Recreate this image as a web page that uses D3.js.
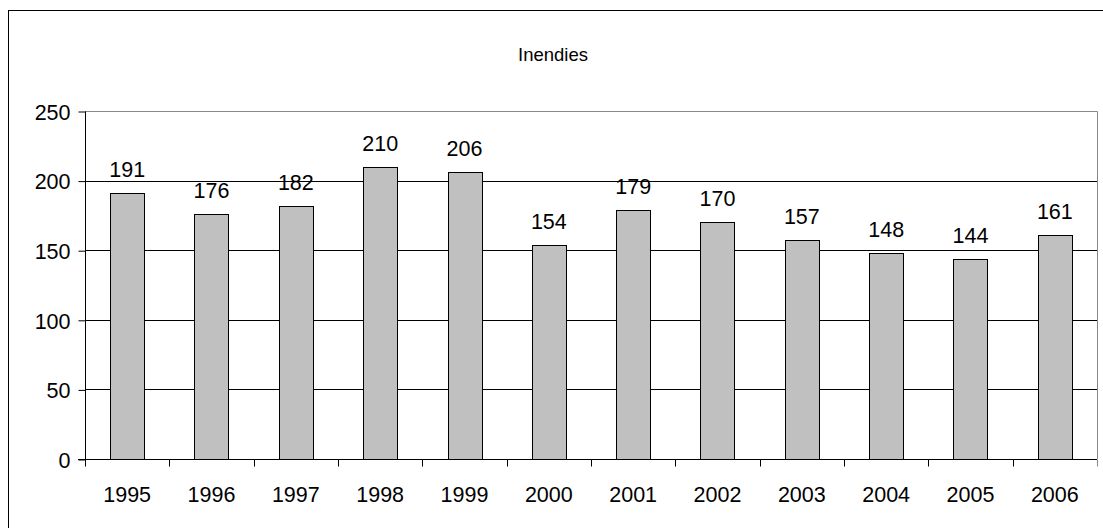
<!DOCTYPE html>
<html>
<head>
<meta charset="utf-8">
<script src="https://cdn.jsdelivr.net/npm/d3@7/dist/d3.min.js"></script>
<style>
  html, body { margin: 0; padding: 0; background: #fff; }
  svg { display: block; font-family: "Liberation Sans", Arial, sans-serif; }
</style>
</head>
<body>
<svg id="chart" width="1103" height="528"></svg>
<script>
// Annual number of fires
const years = ["1995", "1996", "1997", "1998", "1999", "2000", "2001", "2002", "2003", "2004", "2005", "2006"];
const fires = [191, 176, 182, 210, 206, 154, 179, 170, 157, 148, 144, 161];
const yTicks = [0, 50, 100, 150, 200, 250];
const title = "Inendies";

const svg = d3.select("#chart");
const plot = { left: 85, right: 1097, top: 111, bottom: 459 };
const fs = 21.5;

// outer frame (right and bottom edges fall outside the view)
svg.append("rect")
  .attr("x", 8.5).attr("y", 10.5)
  .attr("width", 1110).attr("height", 530)
  .attr("fill", "none").attr("stroke", "#000").attr("stroke-width", 1);

svg.append("text")
  .attr("x", 553).attr("y", 61)
  .attr("text-anchor", "middle")
  .attr("font-size", 18.5)
  .text(title);

const x = d3.scaleBand().domain(years).range([plot.left, plot.right]).paddingInner(0).paddingOuter(0);
const y = d3.scaleLinear().domain([0, 250]).range([plot.bottom, plot.top]);

// plot area border (top and right in gray)
svg.append("path")
  .attr("d", `M${plot.left},${plot.top + 0.5}H${plot.right + 0.5}V${plot.bottom}`)
  .attr("fill", "none").attr("stroke", "#888").attr("stroke-width", 1);

// horizontal gridlines
svg.append("g")
  .selectAll("line")
  .data(yTicks.filter(t => t > 0 && t < 250))
  .join("line")
  .attr("x1", plot.left).attr("x2", plot.right)
  .attr("y1", d => Math.round(y(d)) + 0.5).attr("y2", d => Math.round(y(d)) + 0.5)
  .attr("stroke", "#000").attr("stroke-width", 1);

// bars
const barW = 34;
const rows = years.map((yr, i) => ({ yr, v: fires[i] }));
svg.append("g")
  .selectAll("rect")
  .data(rows)
  .join("rect")
  .attr("x", d => Math.round(x(d.yr) + x.bandwidth() / 2 - barW / 2) + 0.5)
  .attr("y", d => Math.round(y(d.v)) + 0.5)
  .attr("width", barW)
  .attr("height", d => Math.round(y(0)) - Math.round(y(d.v)))
  .attr("fill", "#c0c0c0")
  .attr("stroke", "#000").attr("stroke-width", 1);

// value labels
svg.append("g")
  .selectAll("text")
  .data(rows)
  .join("text")
  .attr("x", d => x(d.yr) + x.bandwidth() / 2)
  .attr("y", d => y(d.v) - 16)
  .attr("text-anchor", "middle")
  .attr("font-size", fs)
  .text(d => d.v);

// y axis
const yAxis = d3.axisLeft(y).tickValues(yTicks).tickSize(7).tickPadding(8);
const gy = svg.append("g")
  .attr("transform", `translate(${plot.left + 0.5},0.5)`)
  .call(yAxis);
gy.select(".domain").attr("d", `M0,${plot.top}V${plot.bottom}`).attr("stroke", "#000");
gy.selectAll(".tick line").attr("stroke", "#000");
gy.selectAll(".tick text").attr("font-size", fs).attr("font-family", "Liberation Sans, Arial, sans-serif").attr("fill", "#000").attr("dy", "0.36em");

// x axis: ticks sit on category boundaries
const gx = svg.append("g").attr("transform", `translate(0,${plot.bottom + 0.5})`);
gx.append("line")
  .attr("x1", plot.left - 7).attr("x2", plot.right)
  .attr("stroke", "#000");
const bounds = years.map(yr => x(yr)).concat([plot.right]);
gx.selectAll("line.tk")
  .data(bounds)
  .join("line").attr("class", "tk")
  .attr("x1", d => Math.round(d) + 0.5).attr("x2", d => Math.round(d) + 0.5)
  .attr("y1", 0).attr("y2", 7)
  .attr("stroke", (d, i) => i === bounds.length - 1 ? "#888" : "#000");
gx.selectAll("text")
  .data(years)
  .join("text")
  .attr("x", d => x(d) + x.bandwidth() / 2)
  .attr("y", 42)
  .attr("text-anchor", "middle")
  .attr("font-size", fs)
  .text(d => d);
</script>
</body>
</html>
